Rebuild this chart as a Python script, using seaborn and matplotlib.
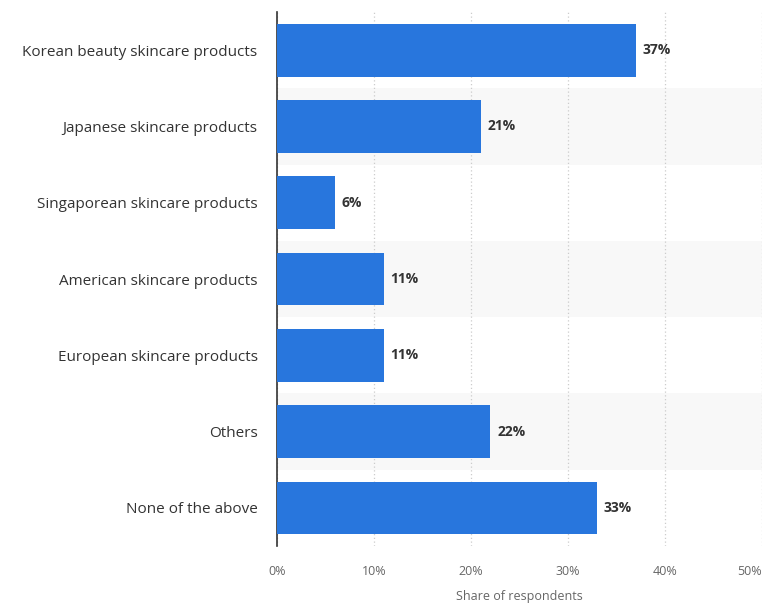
import numpy as np
import pandas as pd
import matplotlib
matplotlib.use('agg')
import matplotlib.pyplot as plt
import seaborn as sns

categories = ['Korean beauty skincare products', 'Japanese skincare products',
              'Singaporean skincare products', 'American skincare products',
              'European skincare products', 'Others', 'None of the above']
shares = [37, 21, 6, 11, 11, 22, 33]
xticks = [0, 10, 20, 30, 40, 50]

df = pd.DataFrame({'category': categories, 'share': shares})

sns.set_style('white')
plt.rcParams['font.family'] = ['Open Sans', 'DejaVu Sans']

fig = plt.figure(figsize=(7.64, 6.03), dpi=100)
ax = fig.add_axes([0.3626, 0.0945, 0.6345, 0.8855])

# alternating light bands behind odd rows
for i in range(len(categories)):
    if i % 2 == 1:
        ax.axhspan(i - 0.5, i + 0.5, color='#f8f8f8', zorder=0, lw=0)

sns.barplot(data=df, x='share', y='category', color='#2876dd', saturation=1,
            width=0.69, linewidth=0, ax=ax, zorder=3)

for i, v in enumerate(shares):
    ax.text(v + 0.7, i, f'{v}%', va='center', ha='left', fontsize=10,
            fontweight='bold', color='#333333', zorder=4)

ax.set_xlim(0, 50)
ax.set_ylim(len(categories) - 0.5, -0.5)
ax.set_xticks(xticks)
ax.set_xticklabels([f'{t}%' for t in xticks], fontsize=9, color='#666666')
ax.get_xticklabels()[-1].set_horizontalalignment('right')
ax.tick_params(axis='x', length=0, pad=14)
ax.tick_params(axis='y', length=0, pad=14, labelsize=11, labelcolor='#333333')
ax.xaxis.grid(True, linestyle=(0, (1, 2)), color='#cccccc', lw=0.9, zorder=1)
ax.set_axisbelow(True)
ax.set_xlabel('Share of respondents', fontsize=9, color='#666666', labelpad=8)
ax.set_ylabel('')
for s in ['top', 'right', 'bottom']:
    ax.spines[s].set_visible(False)
ax.spines['left'].set_color('#333333')
ax.spines['left'].set_linewidth(1.2)

fig.savefig('out.png', dpi=100)
